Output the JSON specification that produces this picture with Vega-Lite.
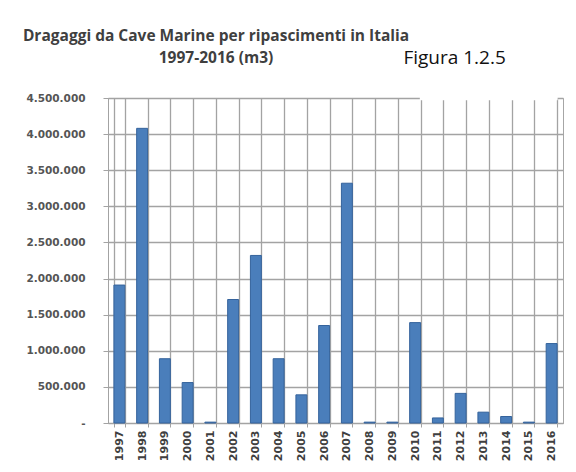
{
  "$schema": "https://vega.github.io/schema/vega-lite/v6.json",
  "width": 455,
  "height": 325,
  "autosize": {"type": "none"},
  "padding": {"left": 108, "top": 98, "right": 13, "bottom": 49},
  "background": "white",
  "config": {
    "locale": {"number": {"decimal": ",", "thousands": ".", "grouping": [3], "currency": ["€", ""]}},
    "view": {"stroke": "#a6a6a6", "strokeWidth": 1}
  },
  "title": {
    "text": ["Dragaggi da Cave Marine per ripascimenti in Italia", "1997-2016 (m3)"],
    "anchor": "start",
    "frame": "group",
    "align": "center",
    "dx": 108,
    "offset": -46,
    "font": "Open Sans",
    "fontSize": 15.5,
    "fontWeight": "bold",
    "color": "#3f3f3f",
    "lineHeight": 22
  },
  "resolve": {"axis": {"x": "independent", "y": "independent"}},
  "layer": [
    {
      "data": {"values": [
        {"anno": "1997", "m3": 1910000},
        {"anno": "1998", "m3": 4080000},
        {"anno": "1999", "m3": 890000},
        {"anno": "2000", "m3": 560000},
        {"anno": "2001", "m3": 12000},
        {"anno": "2002", "m3": 1710000},
        {"anno": "2003", "m3": 2320000},
        {"anno": "2004", "m3": 890000},
        {"anno": "2005", "m3": 390000},
        {"anno": "2006", "m3": 1350000},
        {"anno": "2007", "m3": 3320000},
        {"anno": "2008", "m3": 12000},
        {"anno": "2009", "m3": 12000},
        {"anno": "2010", "m3": 1390000},
        {"anno": "2011", "m3": 70000},
        {"anno": "2012", "m3": 410000},
        {"anno": "2013", "m3": 150000},
        {"anno": "2014", "m3": 90000},
        {"anno": "2015", "m3": 12000},
        {"anno": "2016", "m3": 1100000}
      ]},
      "mark": {"type": "bar", "color": "#4a7ebb", "stroke": "#35639c", "strokeWidth": 1},
      "encoding": {
        "x": {
          "field": "anno", "type": "nominal", "sort": null,
          "scale": {"paddingInner": 0.52, "paddingOuter": 0.26},
          "axis": {
            "title": null,
            "labelAngle": -90,
            "labelAlign": "right",
            "labelBaseline": "middle",
            "labelFont": "DejaVu Sans",
            "labelFontWeight": "bold",
            "labelFontSize": 11,
            "labelColor": "#404040",
            "labelPadding": 3,
            "tickBand": "extent",
            "grid": true,
            "gridColor": "#a3a3a3",
            "gridWidth": 1.3,
            "tickColor": "#a3a3a3",
            "tickSize": 4,
            "domainColor": "#a3a3a3"
          }
        },
        "y": {
          "field": "m3", "type": "quantitative",
          "scale": {"domain": [0, 4500000], "nice": false},
          "axis": {
            "title": null,
            "values": [0, 500000, 1000000, 1500000, 2000000, 2500000, 3000000, 3500000, 4000000, 4500000],
            "labelOverlap": false,
            "format": ",d",
            "labelExpr": "datum.value == 0 ? '-' : datum.label",
            "labelFont": "DejaVu Sans",
            "labelFontWeight": "bold",
            "labelFontSize": 10.5,
            "labelColor": "#555555",
            "labelPadding": 18,
            "grid": true,
            "gridColor": "#a3a3a3",
            "gridWidth": 1.3,
            "tickColor": "#a3a3a3",
            "tickSize": 5,
            "domainColor": "#a3a3a3"
          }
        }
      }
    },
    {
      "data": {"values": [{"testo": "Figura 1.2.5"}]},
      "mark": {"type": "rect", "color": "white", "opacity": 1},
      "encoding": {
        "x": {"datum": "2010", "type": "nominal", "bandPosition": 0.93, "axis": null},
        "x2": {"datum": "2016", "bandPosition": 1.05},
        "y": {"datum": 4470000, "type": "quantitative", "axis": null},
        "y2": {"datum": 5580000}
      }
    },
    {
      "data": {"values": [{"testo": "Figura 1.2.5"}]},
      "mark": {"type": "text", "font": "Open Sans", "fontSize": 19, "color": "#111111", "align": "center", "baseline": "middle", "dx": -6},
      "encoding": {
        "x": {"datum": "2012", "type": "nominal", "axis": null},
        "y": {"datum": 5050000, "type": "quantitative", "axis": null},
        "text": {"field": "testo"}
      }
    }
  ]
}
